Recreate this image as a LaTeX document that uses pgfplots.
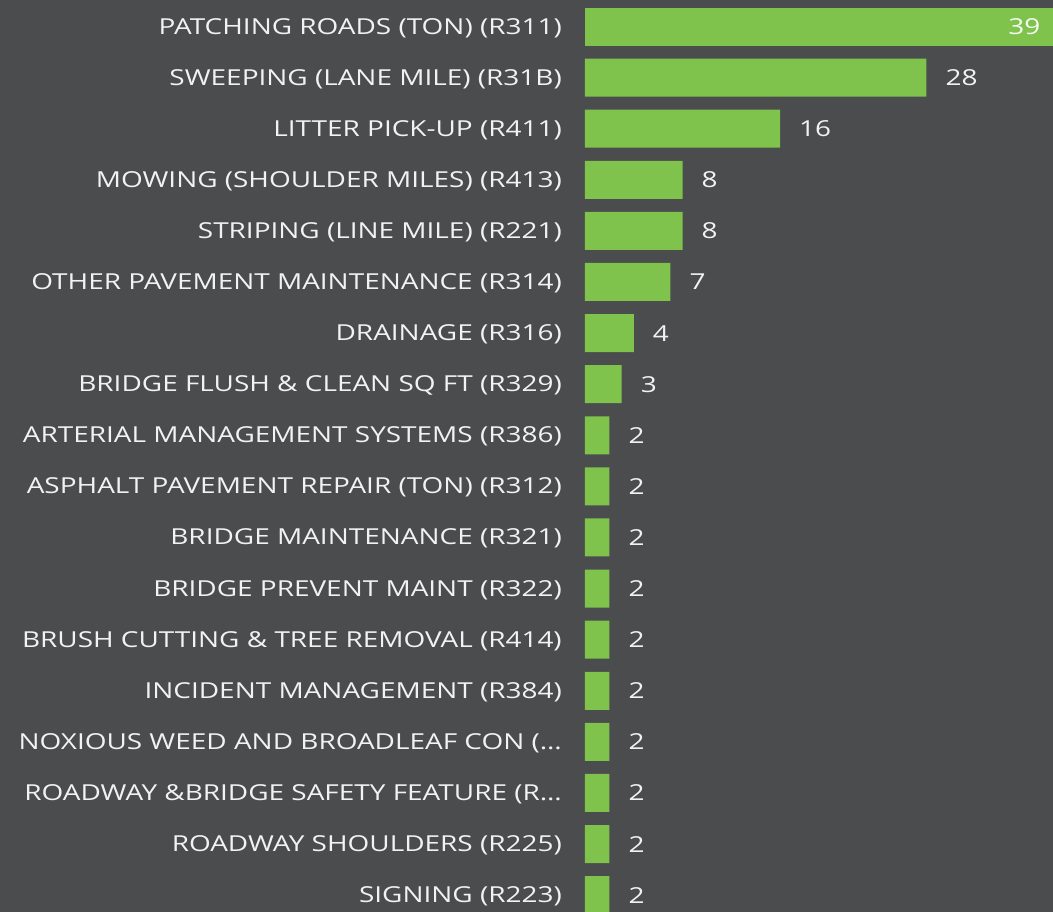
\documentclass[border=0pt]{standalone}
\usepackage{fontspec}
\setmainfont{Open Sans}
\newfontfamily\widefont[FakeStretch=1.27]{Open Sans}
\usepackage{pgfplots}
\pgfplotsset{compat=1.18}
\definecolor{bg}{HTML}{4B4C4E}
\definecolor{barc}{HTML}{7FC24C}
\definecolor{txt}{HTML}{F2F2F2}
\newcommand{\lblfont}{\widefont\fontsize{22}{26}\selectfont}
\begin{document}
\begin{tikzpicture}
\fill[bg] (-585pt,0pt) rectangle (468pt,912pt);
\begin{axis}[
    at={(0pt,0pt)}, anchor=south west,
    scale only axis, width=468pt, height=912pt,
    clip=false,
    xbar, bar width=38pt, bar shift=0pt,
    xmin=0, xmax=38.39,
    ymin=-0.519, ymax=17.33, y dir=reverse,
    axis line style={draw=none},
    major tick length=0pt,
    xtick=\empty,
    ytick={0,...,17},
    yticklabels={
        {PATCHING ROADS (TON) (R311)},
        {SWEEPING (LANE MILE) (R31B)},
        {LITTER PICK-UP (R411)},
        {MOWING (SHOULDER MILES) (R413)},
        {STRIPING (LINE MILE) (R221)},
        {OTHER PAVEMENT MAINTENANCE (R314)},
        {DRAINAGE (R316)},
        {BRIDGE FLUSH \& CLEAN SQ FT (R329)},
        {ARTERIAL MANAGEMENT SYSTEMS (R386)},
        {ASPHALT PAVEMENT REPAIR (TON) (R312)},
        {BRIDGE MAINTENANCE (R321)},
        {BRIDGE PREVENT MAINT (R322)},
        {BRUSH CUTTING \& TREE REMOVAL (R414)},
        {INCIDENT MANAGEMENT (R384)},
        {NOXIOUS WEED AND BROADLEAF CON (…},
        {ROADWAY \&BRIDGE SAFETY FEATURE (R…},
        {ROADWAY SHOULDERS (R225)},
        {SIGNING (R223)}},
    yticklabel style={font=\lblfont, text=txt, anchor=base east,
        inner sep=0pt, xshift=-23pt, yshift=-7.5pt},
    point meta=x,
    /pgf/number format/assume math mode=true,
]
% value, row
\addplot[fill=barc, draw=none, nodes near coords,
    every node near coord/.append style={font=\lblfont, text=txt,
        anchor=base west, inner sep=0pt, xshift=19pt, yshift=-8pt}]
    table {
x y
28 1
16 2
8 3
8 4
7 5
4 6
3 7
2 8
2 9
2 10
2 11
2 12
2 13
2 14
2 15
2 16
2 17
};
\addplot[fill=barc, draw=none, nodes near coords,
    every node near coord/.append style={font=\lblfont, text=white!92!barc,
        anchor=base east, inner sep=0pt, xshift=-20pt, yshift=-8pt}]
    table {
x y
39 0
};
\end{axis}
\pgfresetboundingbox
\path[use as bounding box] (-585pt,0pt) rectangle (468pt,912pt);
\end{tikzpicture}
\end{document}
